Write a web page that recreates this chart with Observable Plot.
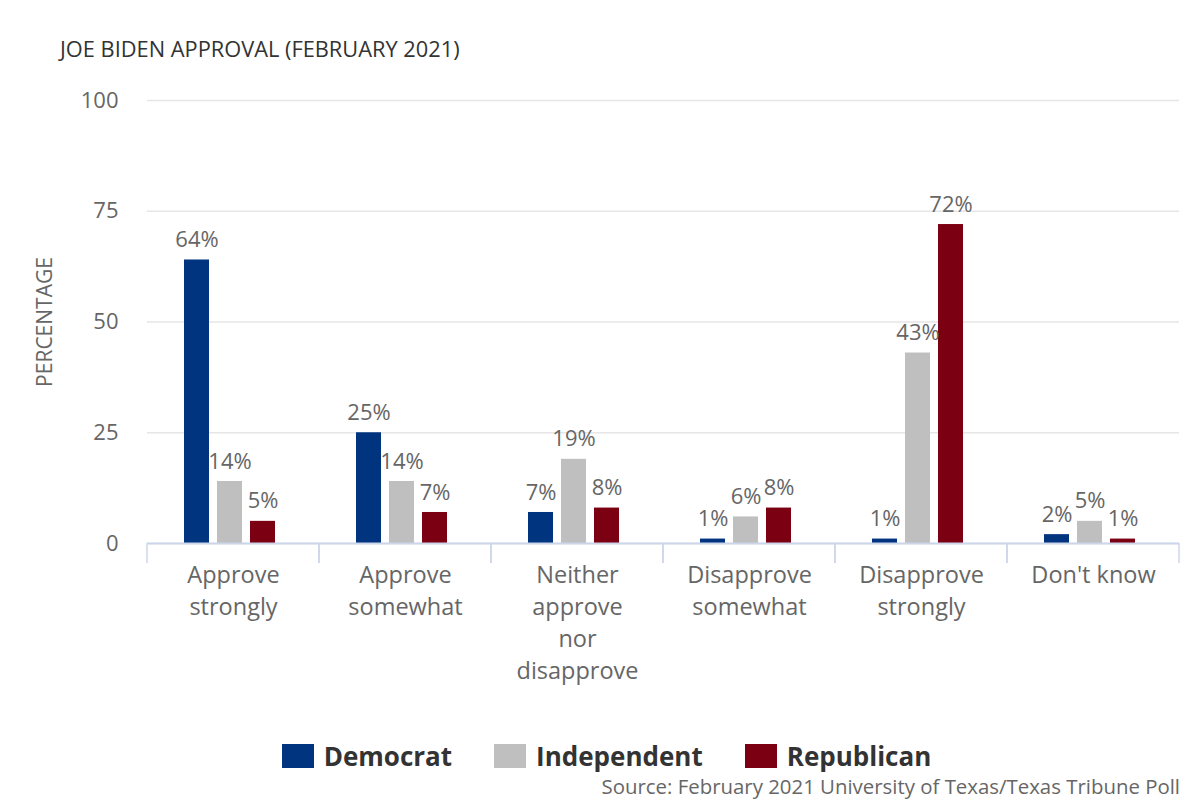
<!DOCTYPE html>
<html>
<head>
<meta charset="utf-8">
<script src="https://cdn.jsdelivr.net/npm/d3@7"></script>
<script src="https://cdn.jsdelivr.net/npm/@observablehq/plot@0.6"></script>
<style>
  html, body { margin: 0; padding: 0; background: #fff; }
  #wrap { position: relative; width: 1200px; height: 800px; overflow: hidden; font-family: "Open Sans", sans-serif; }
  #title { position: absolute; left: 60px; top: 34px; font-size: 21.8px; color: #333; white-space: nowrap; }
  #chart { position: absolute; left: 0; top: 80px; }
  #legend { position: absolute; left: 0; width: 1200px; top: 738px; display: flex; justify-content: center; align-items: center; padding-left: 13px; box-sizing: border-box; }
  .item { display: flex; align-items: center; margin: 0 21px; font-weight: 700; font-size: 26px; color: #333; }
  .sw { width: 32px; height: 24px; margin-right: 10px; }
  #source { position: absolute; right: 20px; top: 772px; font-size: 20.4px; color: #666; white-space: nowrap; }
</style>
</head>
<body>
<div id="wrap">
  <div id="title">JOE BIDEN APPROVAL (FEBRUARY 2021)</div>
  <div id="chart"></div>
  <div id="legend"></div>
  <div id="source">Source: February 2021 University of Texas/Texas Tribune Poll</div>
</div>
<script>
const categories = ["Approve strongly", "Approve somewhat", "Neither approve nor disapprove", "Disapprove somewhat", "Disapprove strongly", "Don't know"];
const categoryLabels = ["Approve\nstrongly", "Approve\nsomewhat", "Neither\napprove\nnor\ndisapprove", "Disapprove\nsomewhat", "Disapprove\nstrongly", "Don't know"];
const parties = ["Democrat", "Independent", "Republican"];
const democrat = [64, 25, 7, 1, 1, 2];
const independent = [14, 14, 19, 6, 43, 5];
const republican = [5, 7, 8, 8, 72, 1];
const colors = ["#00347f", "#bfbfbf", "#7b0011"];
const yTicks = [0, 25, 50, 75, 100];

const series = [democrat, independent, republican];
const data = [];
categories.forEach((c, i) => {
  parties.forEach((p, j) => data.push({category: c, party: p, value: series[j][i]}));
});
const labelOf = new Map(categories.map((c, i) => [c, categoryLabels[i]]));

const axisTicks = (index, scales, values, dims) => {
  const g = d3.create("svg:g");
  const y0 = scales.y(0);
  const xl = dims.marginLeft, xr = dims.width - dims.marginRight;
  for (const x of [xl, xr]) {
    g.append("line").attr("x1", x).attr("x2", x).attr("y1", y0).attr("y2", y0 + 20)
      .attr("stroke", "#ccd6eb").attr("stroke-width", 1.5);
  }
  return g.node();
};

const plot = Plot.plot({
  width: 1200,
  height: 640,
  marginTop: 20,
  marginBottom: 177,
  marginLeft: 145,
  marginRight: 20,
  style: {fontFamily: "Open Sans", fontSize: "22px", color: "#666", background: "white"},
  fx: {domain: categories, padding: 0, axis: null, label: null},
  x: {domain: parties, paddingInner: 0.235, paddingOuter: 1.153, align: 0.46, axis: null, label: null},
  y: {domain: [0, 100], label: null},
  color: {domain: parties, range: colors},
  marks: [
    Plot.gridY(yTicks, {stroke: "#e6e6e6", strokeOpacity: 1, strokeWidth: 1.5}),
    Plot.axisY(yTicks, {tickSize: 0, tickPadding: 29, fontSize: 22, fill: "#666", label: "PERCENTAGE", labelAnchor: "center", labelOffset: 110, labelArrow: "none"}),
    Plot.barY(data, {fx: "category", x: "party", y: "value", fill: "party"}),
    Plot.ruleY([0], {stroke: "#ccd6eb", strokeWidth: 2}),
    axisTicks,
    Plot.text(data, {fx: "category", x: "party", y: "value", text: d => d.value + "%", dy: -20, fontSize: 22, fill: "#666"}),
    Plot.text(categories, {fx: d => d, text: d => labelOf.get(d), frameAnchor: "bottom", lineAnchor: "top", dy: 17, fontSize: 23.5, lineHeight: 1.36, fill: "#666"})
  ]
});
document.getElementById("chart").appendChild(plot);
// y-axis label size
d3.select(plot).selectAll("text").filter(function() { return this.textContent === "PERCENTAGE"; }).attr("font-size", 21);

const legend = document.getElementById("legend");
parties.forEach((p, i) => {
  const item = document.createElement("div");
  item.className = "item";
  const sw = document.createElement("div");
  sw.className = "sw";
  sw.style.background = colors[i];
  const t = document.createElement("span");
  t.textContent = p;
  item.appendChild(sw);
  item.appendChild(t);
  legend.appendChild(item);
});
</script>
</body>
</html>
